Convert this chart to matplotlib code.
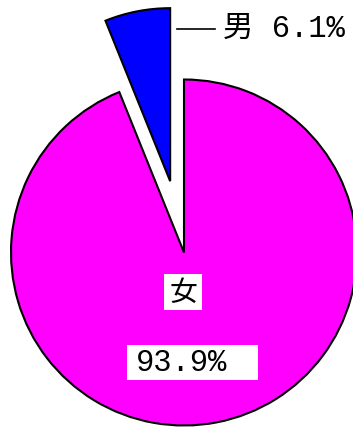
import matplotlib
matplotlib.use("Agg")
import matplotlib.pyplot as plt
from matplotlib.patches import Rectangle

# Data
categories = ["女", "男"]
values = [93.9, 6.1]
value_labels = ["93.9%", "6.1%"]
colors = ["#FF00FF", "#0000FF"]
explode = [0.0, 0.42]

W, H = 353, 431
CX, CY, R = 184.0, 253.5, 173.0  # pie center / radius in pixels


def px(x):
    return (x - CX) / R


def py(y):
    return (CY - y) / R


fig = plt.figure(figsize=(W / 100, H / 100), dpi=100)
ax = fig.add_axes([0, 0, 1, 1])
ax.pie(values, colors=colors, explode=explode, startangle=90, counterclock=False,
       radius=1.0, wedgeprops=dict(edgecolor="black", linewidth=1.5),
       center=(0, 0), frame=False)
ax.set_xlim(px(0), px(W))
ax.set_ylim(py(H), py(0))
ax.set_aspect("auto")
ax.axis("off")

fam = ["Liberation Mono", "Noto Sans CJK JP"]

# 男 label with leader line
ax.plot([px(177), px(215)], [py(30), py(30)], color="black", lw=1.2)
ax.text(px(223), py(29), f"{categories[1]} {value_labels[1]}", family=fam,
        fontsize=22, ha="left", va="center", color="black")

# 女 label
ax.add_patch(Rectangle((px(164), py(311)), (202 - 164) / R, (311 - 275) / R,
                       facecolor="white", edgecolor="none", zorder=3))
ax.text(px(183.5), py(293), categories[0], family=["Noto Sans CJK JP"],
        fontsize=20, ha="center", va="center", color="black", zorder=4)

# 93.9% label
ax.add_patch(Rectangle((px(127), py(381)), (258 - 127) / R, (381 - 346) / R,
                       facecolor="white", edgecolor="none", zorder=3))
ax.text(px(136), py(363.5), value_labels[0], family=fam,
        fontsize=22, ha="left", va="center", color="black", zorder=4)

fig.savefig("out.png", dpi=100)
